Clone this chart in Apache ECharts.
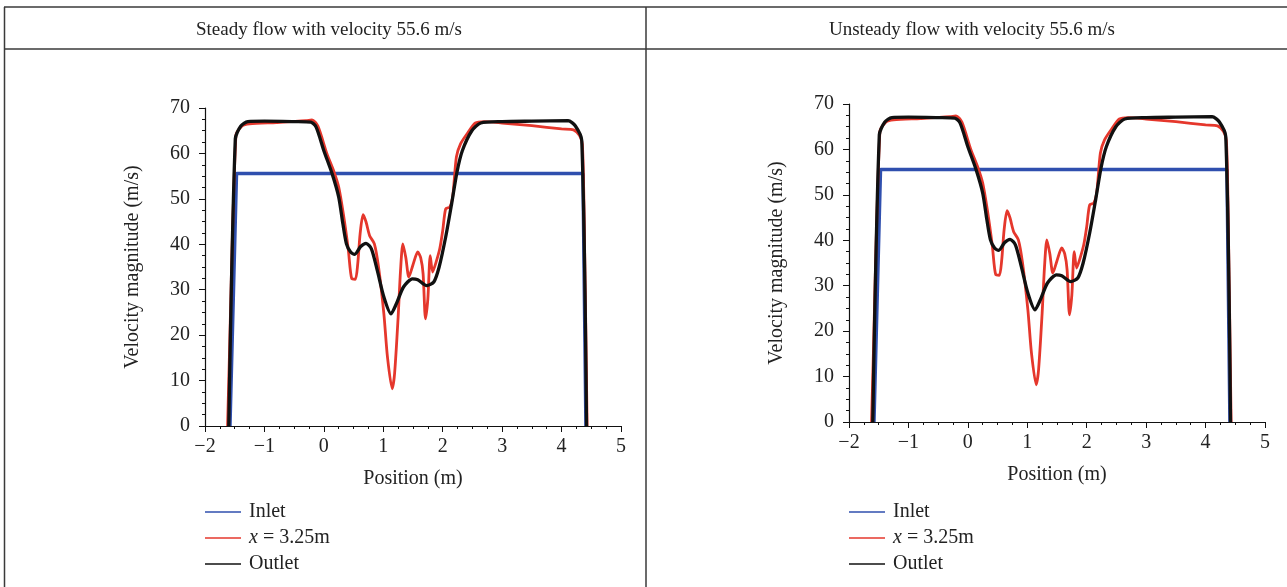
<!DOCTYPE html>
<html>
<head>
<meta charset="utf-8">
<script src="https://cdn.jsdelivr.net/npm/echarts@6/dist/echarts.min.js"></script>
<style>
  html, body { margin: 0; padding: 0; background: #fff; }
  #chart { width: 1287px; height: 587px; }
</style>
</head>
<body>
<div id="chart"></div>
<script>
// data: [position (m), velocity (m/s)]
var panelTitles = ['Steady flow with velocity 55.6 m/s', 'Unsteady flow with velocity 55.6 m/s'];
var seriesNames = ['Inlet', 'x = 3.25m', 'Outlet'];
var xTicks = [-2, -1, 0, 1, 2, 3, 4, 5];
var yTicks = [0, 10, 20, 30, 40, 50, 60, 70];

var inlet = [[-1.58, 0], [-1.47, 55.6], [4.36, 55.6], [4.41, 0]];

var mid = [
  [-1.62, 0], [-1.60, 10], [-1.48, 64], [-1.38, 66], [-1.25, 66.5], [-0.8, 66.8], [-0.3, 67.2],
  [-0.2, 67.4], [-0.1, 66], [0.05, 60], [0.17, 56], [0.25, 52.6], [0.33, 46.5], [0.41, 39],
  [0.47, 32.4], [0.53, 32.3], [0.57, 35.7], [0.61, 42.3], [0.66, 46.5], [0.71, 44.9], [0.77, 41.9],
  [0.85, 40.1], [0.92, 35], [1.01, 24.7], [1.07, 15.2], [1.15, 8.2], [1.19, 11.5], [1.25, 24],
  [1.29, 34.2], [1.33, 40.1], [1.38, 37], [1.43, 32.8], [1.5, 35.5], [1.58, 38.3], [1.63, 37],
  [1.67, 33.5], [1.71, 23.6], [1.75, 28], [1.79, 37.5], [1.83, 33.9], [1.88, 35.7], [1.95, 39],
  [2.0, 43], [2.05, 47.8], [2.12, 48.2], [2.17, 50.7], [2.23, 59.2], [2.30, 62.1], [2.42, 64.5],
  [2.55, 66.7], [2.7, 67], [3.0, 66.7], [3.5, 66.1], [4.0, 65.4], [4.2, 65.2], [4.3, 64],
  [4.35, 62], [4.38, 46], [4.43, 0]
];

var outlet = [
  [-1.60, 0], [-1.49, 63.2], [-1.40, 66], [-1.28, 67], [-1.0, 67.1], [-0.5, 67], [-0.22, 66.9],
  [-0.13, 65.8], [0.0, 60.6], [0.14, 55.5], [0.25, 50.4], [0.32, 44.5], [0.38, 40.1], [0.45, 38.3],
  [0.52, 37.8], [0.62, 39.5], [0.71, 40.2], [0.80, 39.0], [0.90, 34.2], [1.01, 28.4], [1.13, 24.7],
  [1.22, 26.9], [1.34, 30.6], [1.49, 32.4], [1.58, 32.2], [1.73, 30.9], [1.85, 31.7], [1.94, 35],
  [2.05, 41.6], [2.15, 48.9], [2.24, 55.9], [2.33, 60.6], [2.49, 65.0], [2.64, 66.7], [3.0, 67],
  [3.5, 67.1], [4.11, 67.2], [4.23, 66.1], [4.34, 62.8], [4.42, 0]
];

var serif = '"Liberation Serif", "DejaVu Serif", serif';
var ink = '#222';
var colors = ['#2f4fae', '#e5372c', '#111111'];
var panelLeft = [205, 849];
var panelTop = [108, 104];
var border = '#3a3a3a';
var fs = 20;

var myChart = echarts.init(document.getElementById('chart'));

function minus(v) { return String(v).replace('-', '\u2212'); }

var grids = [], xAxes = [], yAxes = [], series = [], legends = [], titles = [];

for (var p = 0; p < 2; p++) {
  grids.push({ left: panelLeft[p], top: panelTop[p], width: 416, height: 318 });
  xAxes.push({
    gridIndex: p, type: 'value', min: xTicks[0], max: xTicks[xTicks.length - 1], interval: 1,
    name: 'Position (m)', nameLocation: 'middle', nameGap: 43,
    nameTextStyle: { fontFamily: serif, fontSize: fs, color: ink },
    axisLine: { onZero: false, lineStyle: { color: '#111', width: 1.2 } },
    axisTick: { length: 6, lineStyle: { color: '#111' } },
    minorTick: { show: true, splitNumber: 4, length: 3, lineStyle: { color: '#111' } },
    splitLine: { show: false },
    axisLabel: { margin: 11, fontFamily: serif, fontSize: fs, color: ink, formatter: minus }
  });
  yAxes.push({
    gridIndex: p, type: 'value', min: yTicks[0], max: yTicks[yTicks.length - 1], interval: 10,
    name: 'Velocity magnitude (m/s)', nameLocation: 'middle', nameGap: 62,
    nameTextStyle: { fontFamily: serif, fontSize: fs, color: ink },
    axisLine: { show: true, onZero: false, lineStyle: { color: '#111', width: 1.2 } },
    axisTick: { show: true, length: 6, lineStyle: { color: '#111' } },
    minorTick: { show: true, splitNumber: 4, length: 3, lineStyle: { color: '#111' } },
    splitLine: { show: false },
    axisLabel: { margin: 15, fontFamily: serif, fontSize: fs, color: ink }
  });
  var sets = [inlet, mid, outlet];
  var widths = [3.5, 2.8, 3.3];
  for (var s = 0; s < 3; s++) {
    series.push({
      name: seriesNames[s], type: 'line', xAxisIndex: p, yAxisIndex: p,
      data: sets[s], showSymbol: false, smooth: s === 0 ? false : 0.25,
      lineStyle: { color: colors[s], width: widths[s] },
      itemStyle: { color: colors[s] }, z: 2 + s
    });
  }
  legends.push({
    left: panelLeft[p], top: 502, orient: 'vertical', itemGap: 6, padding: 0,
    itemWidth: 36, itemHeight: 1.5, icon: 'rect',
    data: seriesNames,
    formatter: function (n) { return n === 'x = 3.25m' ? '{i|x} = 3.25m' : n; },
    textStyle: {
      fontFamily: serif, fontSize: fs, color: ink, lineHeight: 20, padding: [0, 0, 0, 3],
      rich: { i: { fontFamily: serif, fontSize: fs, fontStyle: 'italic', color: ink } }
    }
  });
  titles.push({
    text: panelTitles[p], left: p === 0 ? 324 : 967, top: 16, textAlign: 'center',
    textStyle: { fontFamily: serif, fontSize: 19, fontWeight: 'normal', color: ink }
  });
}

option = {
  backgroundColor: '#fff',
  animation: false,
  title: titles,
  grid: grids,
  xAxis: xAxes,
  yAxis: yAxes,
  legend: legends,
  series: series,
  graphic: [
    { type: 'line', shape: { x1: 4, y1: 7, x2: 1287, y2: 7 }, style: { stroke: border, lineWidth: 1.5 } },
    { type: 'line', shape: { x1: 4, y1: 49, x2: 1287, y2: 49 }, style: { stroke: border, lineWidth: 1.5 } },
    { type: 'line', shape: { x1: 4.5, y1: 7, x2: 4.5, y2: 587 }, style: { stroke: border, lineWidth: 1.5 } },
    { type: 'line', shape: { x1: 646, y1: 7, x2: 646, y2: 587 }, style: { stroke: border, lineWidth: 1.5 } }
  ]
};

myChart.setOption(option);
</script>
</body>
</html>
